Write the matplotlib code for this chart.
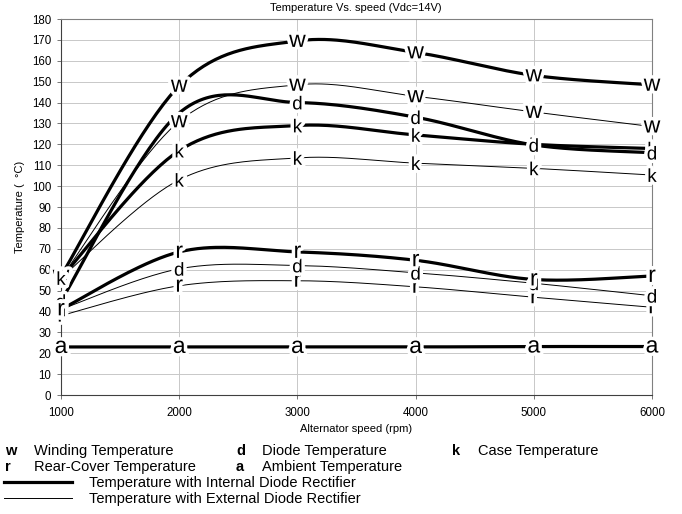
import numpy as np
import matplotlib
matplotlib.use("Agg")
import matplotlib.pyplot as plt
from matplotlib.lines import Line2D
import matplotlib.patheffects as pe
from matplotlib.transforms import offset_copy

plt.rcParams['font.family'] = ['Liberation Sans', 'DejaVu Sans']

# ---------------- data ----------------
speed = [1000, 2000, 3000, 4000, 5000, 6000]

# Internal diode rectifier (thick lines)
w_int = [57, 148, 169.5, 164, 153, 148.5]
d_int = [45, 135, 140, 133, 119.7, 116]
k_int = [56, 117, 129, 124.5, 120, 118]
r_int = [41, 68.5, 68.5, 64.5, 55.3, 57]
a_int = [23, 23, 23, 23, 23.2, 23.2]

# External diode rectifier (thin lines)
w_ext = [56, 131, 148.5, 143, 135.5, 128.5]
d_ext = [41, 60.4, 62, 58.5, 53.5, 47.5]
k_ext = [56, 103, 113.5, 111, 108.5, 105.3]
r_ext = [38, 52.3, 54.7, 51.8, 46.8, 42]

title = "Temperature Vs. speed (Vdc=14V)"
xlabel = "Alternator speed (rpm)"
ylabel = "Temperature (  \u00b0C)"
yticks = list(range(0, 181, 10))

legend_rows = [
    [("w", "Winding Temperature"), ("d", "Diode Temperature"), ("k", "Case Temperature")],
    [("r", "Rear-Cover Temperature"), ("a", "Ambient Temperature")],
]
line_legend = [("Temperature with Internal Diode Rectifier", 2.3),
               ("Temperature with External Diode Rectifier", 0.7)]

THICK, THIN = 2.3, 0.7
# marker drawing order: (values, letter, linewidth, show-marker mask)
series = [
    (w_ext, "w", THIN, None),
    (w_int, "w", THICK, None),
    (k_int, "k", THICK, None),
    (k_ext, "k", THIN, None),
    (d_int, "d", THICK, [True, False, True, True, True, True]),
    (r_ext, "r", THIN, None),
    (d_ext, "d", THIN, None),
    (r_int, "r", THICK, None),
    (a_int, "a", THICK, None),
]

# letter marker style: font size (pt) and glyph half-height factor (em)
letter_size = {"w": 16.5, "r": 16.5, "a": 16.5, "d": 13.5, "k": 13.5}
letter_half = {"w": 0.26, "r": 0.26, "a": 0.26, "d": 0.365, "k": 0.365}


def smooth(xs, ys, n=40):
    """Excel-style smoothed line (Bezier through the data points)."""
    P = np.column_stack([xs, ys]).astype(float)
    out = []
    for i in range(len(P) - 1):
        p0, p3 = P[i], P[i + 1]
        prev = P[i - 1] if i > 0 else P[i]
        nxt = P[i + 2] if i + 2 < len(P) else P[i + 1]
        c1 = p0 + (p3 - prev) / 6.0
        c2 = p3 - (nxt - p0) / 6.0
        t = np.linspace(0, 1, n)[:, None]
        seg = (1 - t) ** 3 * p0 + 3 * (1 - t) ** 2 * t * c1 + 3 * (1 - t) * t ** 2 * c2 + t ** 3 * p3
        out.append(seg if i == 0 else seg[1:])
    return np.vstack(out)


fig = plt.figure(figsize=(6.82, 5.14), dpi=100)
ax = fig.add_axes([61 / 682, 1 - 395 / 514, (652 - 61) / 682, (395 - 19) / 514])

ax.set_xlim(1000, 6000)
ax.set_ylim(0, 180)
ax.set_xticks(speed)
ax.set_yticks(yticks)
ax.tick_params(axis='both', labelsize=8.3, length=3, width=0.6, color='#606060')
ax.tick_params(axis='x', pad=6)
ax.tick_params(axis='y', pad=4)
ax.grid(True, color='#c8c8c8', linewidth=0.7)
ax.set_axisbelow(True)
for s in ax.spines.values():
    s.set_color('#808080')
    s.set_linewidth(0.8)
ax.spines['left'].set_color('#404040')
ax.spines['bottom'].set_color('#404040')

# lines first
for vals, letter, lw, mask in series:
    pts = smooth(speed, vals)
    ax.plot(pts[:, 0], pts[:, 1], color='black', lw=lw, solid_capstyle='butt', zorder=2)

# letter markers on top, with a white halo that breaks the lines around them
halo = [pe.withStroke(linewidth=5, foreground='white')]
z = 3
for vals, letter, lw, mask in series:
    if mask is None:
        mask = [True] * len(vals)
    fs = letter_size[letter]
    tr = offset_copy(ax.transData, fig=fig, x=0, y=-letter_half[letter] * fs, units='points')
    for x, y, m in zip(speed, vals, mask):
        if not m:
            continue
        ax.text(x, y, letter, ha='center', va='baseline', fontsize=fs, zorder=z,
                transform=tr, path_effects=halo, clip_on=False)
    z += 1

fig.text(0.522, 1 - 8 / 514, title, ha='center', va='center', fontsize=8)
fig.text(356 / 682, 1 - 429 / 514, xlabel, ha='center', va='center', fontsize=8)
fig.text(20 / 682, 1 - 207 / 514, ylabel, ha='center', va='center', fontsize=8, rotation=90)

# legend
row_y = [451, 467]
col_x = [(5, 34), (236, 262), (452, 478)]
for r, row in enumerate(legend_rows):
    for c, (letter, label) in enumerate(row):
        lx, tx = col_x[c]
        fig.text(lx / 682, 1 - row_y[r] / 514, letter, ha='left', va='center', fontsize=10.5, fontweight='bold')
        fig.text(tx / 682, 1 - row_y[r] / 514, label, ha='left', va='center', fontsize=10.5)

for i, (label, lw) in enumerate(line_legend):
    yy = [483, 499][i]
    fig.add_artist(Line2D([4 / 682, 72 / 682], [1 - (yy - 1) / 514] * 2, color='black', lw=lw,
                          transform=fig.transFigure))
    fig.text(89 / 682, 1 - yy / 514, label, ha='left', va='center', fontsize=10.5)

fig.savefig("out.png", dpi=100)
